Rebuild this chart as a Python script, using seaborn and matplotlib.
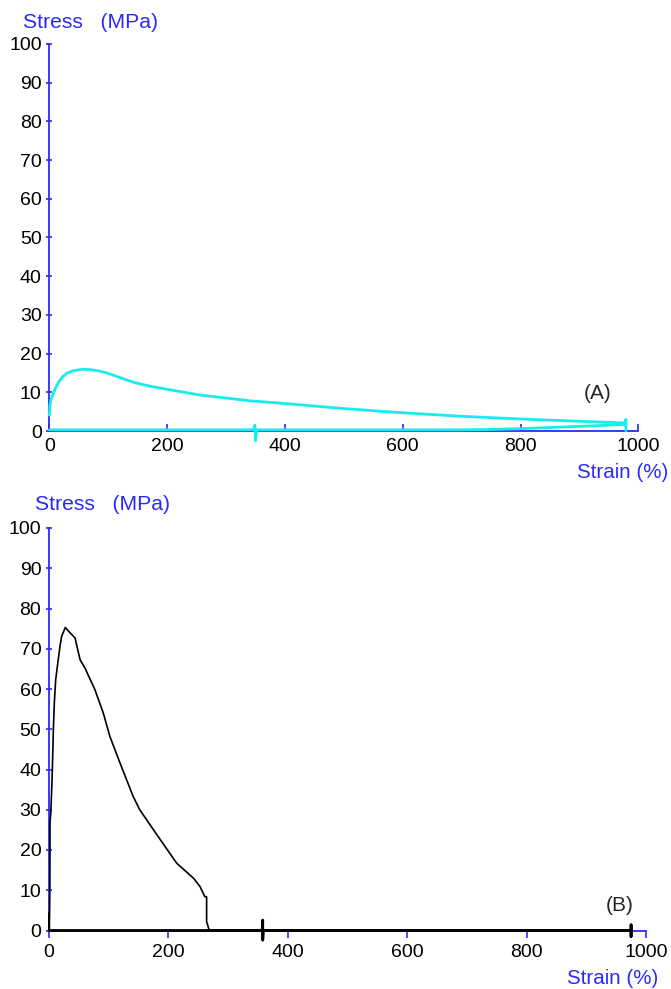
import matplotlib
matplotlib.use("Agg")
import matplotlib.pyplot as plt
import seaborn as sns
import pandas as pd

# ---------------- data ----------------
# Panel A (cyan): loading branch
a_load_strain = [0, 1, 3, 6.8, 10, 15.4, 22, 29.5, 41, 57.7, 70, 85, 100, 120, 142.6,
                 170, 199, 256, 341, 400, 500, 600, 700, 800, 900, 977, 979, 979]
a_load_stress = [4.1, 6.5, 8.2, 9.7, 10.9, 12.5, 13.9, 14.9, 15.6, 15.95, 15.85, 15.5,
                 14.9, 13.8, 12.6, 11.6, 10.8, 9.3, 7.8, 7.1, 5.8, 4.7, 3.8, 3.1, 2.5,
                 2.1, 3.0, 0.0]
# Panel A (cyan): return branch along the baseline
a_ret_strain = [979, 950, 900, 850, 800, 750, 700, 352, 350, 349, 347, 0]
a_ret_stress = [1.7, 1.5, 1.2, 0.9, 0.6, 0.4, 0.3, 0.3, -2.5, 1.5, 0.3, 0.3]

# Panel B (black): stress-strain curve
b_curve_strain = [0, 0, 0.5, 1, 1.5, 1.7, 3, 4.5, 5.6, 7.3, 8.9, 11.2, 14, 18.4, 21.2,
                  27.4, 35, 43.6, 52, 60.3, 77, 91, 102, 119, 141, 152, 183, 214,
                  242, 253, 258.5, 261, 264, 264, 268.5]
b_curve_stress = [0, 4.3, 0, 5, 12, 26.7, 29.2, 35, 39.9, 49.9, 56.5, 62.3, 65.6, 70.6,
                  73.1, 75.3, 74.0, 72.7, 67.3, 65.2, 59.8, 54.0, 48.2, 41.6, 33.3,
                  30.0, 23.3, 16.7, 13.0, 10.9, 9.2, 8.4, 8.4, 2.2, 0]
# Panel B (black): baseline after break
b_base_strain = [268.5, 357, 358, 358, 359, 975, 975, 975, 975, 0]
b_base_stress = [0, 0, 2.6, -2.4, 0, 0, 1.4, -1.5, 0, 0]

y_ticks = [0, 10, 20, 30, 40, 50, 60, 70, 80, 90, 100]
x_ticks = [0, 200, 400, 600, 800, 1000]

# ---------------- style ----------------
sns.set_style("white")
plt.rcParams["font.family"] = ["Liberation Sans", "DejaVu Sans"]

BLUE = "#2a2aff"
CYAN = "#19ecec"
W, H = 671, 989

fig = plt.figure(figsize=(W / 100, H / 100), dpi=100)

def frac_box(x0, x1, y_top, y_bot):
    return [x0 / W, 1 - y_bot / H, (x1 - x0) / W, (y_bot - y_top) / H]

axA = fig.add_axes(frac_box(49.3, 638.3, 44, 431))
axB = fig.add_axes(frac_box(49, 646, 528, 930.5))

dfA1 = pd.DataFrame({"strain": a_load_strain, "stress": a_load_stress})
dfA2 = pd.DataFrame({"strain": a_ret_strain, "stress": a_ret_stress})
dfB1 = pd.DataFrame({"strain": b_curve_strain, "stress": b_curve_stress})
dfB2 = pd.DataFrame({"strain": b_base_strain, "stress": b_base_stress})

sns.lineplot(data=dfA2, x="strain", y="stress", sort=False, estimator=None,
             ax=axA, color=CYAN, lw=2.0, clip_on=False)
sns.lineplot(data=dfA1, x="strain", y="stress", sort=False, estimator=None,
             ax=axA, color=CYAN, lw=2.0, clip_on=False)
sns.lineplot(data=dfB2, x="strain", y="stress", sort=False, estimator=None,
             ax=axB, color="black", lw=2.0, clip_on=False)
sns.lineplot(data=dfB1, x="strain", y="stress", sort=False, estimator=None,
             ax=axB, color="black", lw=1.2, clip_on=False)

for ax, xdir in ((axA, "in"), (axB, "out")):
    ax.set_xlim(0, 1000)
    ax.set_ylim(0, 100)
    ax.set_xticks(x_ticks)
    ax.set_yticks(y_ticks)
    ax.set_xlabel("")
    ax.set_ylabel("")
    for s in ("top", "right"):
        ax.spines[s].set_visible(False)
    for s in ("left", "bottom"):
        ax.spines[s].set_color(BLUE)
        ax.spines[s].set_linewidth(1.3)
        ax.spines[s].set_zorder(1)
    ax.tick_params(axis="y", direction="inout", length=5, width=1.2, color=BLUE,
                   labelcolor="black", labelsize=14, pad=3, left=True)
    ax.tick_params(axis="x", direction=xdir, length=5, width=1.2, color=BLUE,
                   labelcolor="black", labelsize=14, pad=5, bottom=True)
    ax.set_facecolor("none")
    ax.grid(False)

axA.text(931, 9.8, "(A)", fontsize=15, ha="center", va="center")
axB.text(956, 6.3, "(B)", fontsize=15, ha="center", va="center")

fig.text(23 / W, 1 - 22 / H, "Stress   (MPa)", color=BLUE, fontsize=15.2,
         ha="left", va="center")
fig.text(35 / W, 1 - 504 / H, "Stress   (MPa)", color=BLUE, fontsize=15.2,
         ha="left", va="center")
fig.text(668 / W, 1 - 473 / H, "Strain (%)", color=BLUE, fontsize=14.8,
         ha="right", va="center")
fig.text(658 / W, 1 - 978 / H, "Strain (%)", color=BLUE, fontsize=14.8,
         ha="right", va="center")

fig.savefig("out.png", dpi=100)
